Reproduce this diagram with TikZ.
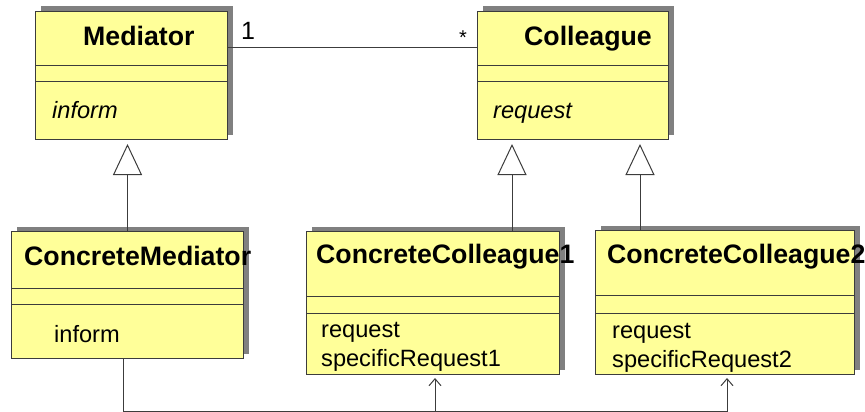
\documentclass[tikz,border=0pt]{standalone}
\usepackage{fontspec}
\setmainfont{Liberation Sans}
\usetikzlibrary{arrows.meta,shadows}
\definecolor{classfill}{RGB}{255,255,153}
\definecolor{shadowgray}{RGB}{128,128,128}
\definecolor{linegray}{RGB}{60,60,60}
\tikzset{
  classbox/.style={rectangle, draw=linegray, line width=1pt, fill=classfill,
    inner sep=0pt, anchor=north west,
    drop shadow={shadow xshift=5pt, shadow yshift=5pt, fill=shadowgray, opacity=1}},
  sepline/.style={draw=linegray, line width=1pt},
  classname/.style={anchor=base west, inner sep=0pt, font=\fontsize{26.7}{30}\selectfont\bfseries},
  member/.style={anchor=base west, inner sep=0pt, font=\fontsize{23.6}{28}\selectfont},
  absmember/.style={member, font=\fontsize{23.6}{28}\selectfont\itshape},
  conn/.style={draw=linegray, line width=1pt},
  gen/.style={conn, -{Triangle[open, length=31pt, width=29pt, fill=white]}, shorten >=4pt},
  dep/.style={conn, -{Straight Barb[length=7pt, width=12pt]}, shorten >=3pt},
}
\begin{document}
\begin{tikzpicture}[x=1pt, y=-1pt]
\useasboundingbox (0,0) rectangle (865,412);

% class boxes
\node[classbox, minimum width=192pt, minimum height=128pt] (med) at (35,11) {};
\node[classbox, minimum width=191pt, minimum height=128pt] (col) at (477,11) {};
\node[classbox, minimum width=232pt, minimum height=127pt] (cm) at (11,231) {};
\node[classbox, minimum width=253pt, minimum height=143pt] (cc1) at (306,231) {};
\node[classbox, minimum width=259pt, minimum height=144pt] (cc2) at (595,230) {};

% compartment separators
\draw[sepline] ([yshift=-55pt]med.north west) -- ([yshift=-55pt]med.north east);
\draw[sepline] ([yshift=-71pt]med.north west) -- ([yshift=-71pt]med.north east);
\draw[sepline] ([yshift=-55pt]col.north west) -- ([yshift=-55pt]col.north east);
\draw[sepline] ([yshift=-71pt]col.north west) -- ([yshift=-71pt]col.north east);
\draw[sepline] ([yshift=-57pt]cm.north west) -- ([yshift=-57pt]cm.north east);
\draw[sepline] ([yshift=-73pt]cm.north west) -- ([yshift=-73pt]cm.north east);
\draw[sepline] ([yshift=-65pt]cc1.north west) -- ([yshift=-65pt]cc1.north east);
\draw[sepline] ([yshift=-82pt]cc1.north west) -- ([yshift=-82pt]cc1.north east);
\draw[sepline] ([yshift=-65pt]cc2.north west) -- ([yshift=-65pt]cc2.north east);
\draw[sepline] ([yshift=-83pt]cc2.north west) -- ([yshift=-83pt]cc2.north east);

% class names
\node[classname] (medname) at (83,46) {Mediator};
\node[classname] (colname) at (524,46) {Colleague};
\node[classname] (cmname) at (24,265) {ConcreteMediator};
\node[classname] (cc1name) at (316,263) {ConcreteColleague1};
\node[classname] (cc2name) at (607,263) {ConcreteColleague2};

% operations
\node[absmember] (medop) at (52,118) {inform};
\node[absmember] (colop) at (493,118) {request};
\node[member] (cmop) at (54,342) {inform};
\node[member] (cc1op1) at (321,337) {request};
\node[member] (cc1op2) at (321,366) {specificRequest1};
\node[member] (cc2op1) at (612,338) {request};
\node[member] (cc2op2) at (612,367) {specificRequest2};

% association with multiplicities
\draw[conn] ([yshift=-37pt]med.north east) -- ([yshift=-37pt]col.north west);
\node[member, font=\fontsize{25}{28}\selectfont] (mult1) at (241,40) {1};
\node[anchor=base west, inner sep=0pt, font=\fontsize{20}{24}\selectfont] (multn) at (459,45) {*};

% generalizations
\draw[gen] (cm.north) -- (cm.north |- med.south);
\draw[gen] ([xshift=206pt]cc1.north west) -- ([xshift=206pt]cc1.north west |- col.south);
\draw[gen] ([xshift=45pt]cc2.north west) -- ([xshift=45pt]cc2.north west |- col.south);

% dependencies from ConcreteMediator to the concrete colleagues
\coordinate (busend) at (727,411);
\draw[dep] ([xshift=-4pt]cm.south) |- (busend) -- (busend |- cc2.south);
\draw[dep] ([xshift=2pt]cc1.south |- busend) -- ([xshift=2pt]cc1.south);
\end{tikzpicture}
\end{document}
